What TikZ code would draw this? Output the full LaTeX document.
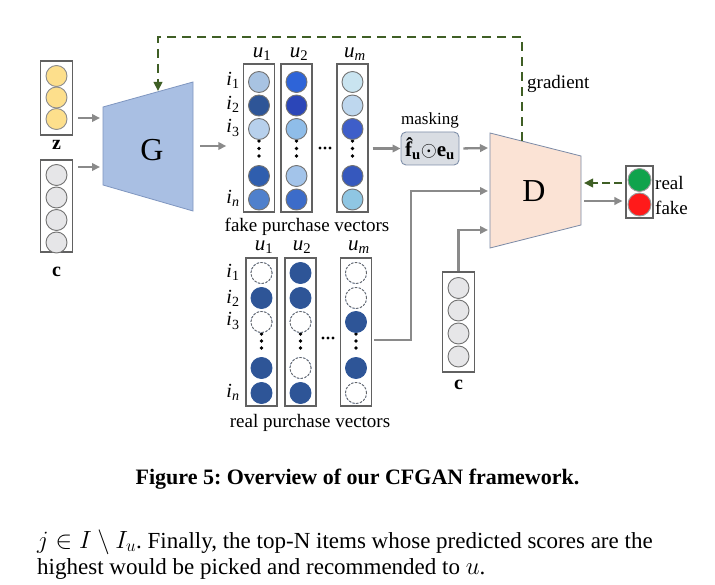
\documentclass[tikz,border=0pt]{standalone}
\usepackage{fontspec}
\setmainfont{Liberation Serif}
\usetikzlibrary{arrows.meta,calc}
\definecolor{gradgreen}{HTML}{3F5F25}
\definecolor{arrgray}{HTML}{8A8A8A}
\definecolor{gfill}{HTML}{A9BFE3}
\definecolor{gdraw}{HTML}{7F96C0}
\definecolor{dfill}{HTML}{FBE3D5}
\definecolor{ddraw}{HTML}{7B8AA6}
\definecolor{yel}{HTML}{FDDF8C}
\definecolor{lgray}{HTML}{E6E6E8}
\definecolor{realblue}{HTML}{2E5597}
\definecolor{maskfill}{HTML}{D9DDE3}
\definecolor{maskdraw}{HTML}{8090AA}
\definecolor{okgreen}{HTML}{10A34C}
\definecolor{badred}{HTML}{FF1A1A}
\frenchspacing
\begin{document}
\begin{tikzpicture}[x=1pt,y=-1pt,
  vbox/.style={draw=black!62, line width=1.1pt, minimum width=31pt, minimum height=148pt, inner sep=0pt},
  sbox/.style={draw=black!62, line width=1.1pt, inner sep=0pt},
  cell/.style={circle, draw=black!55, line width=0.9pt, minimum size=21pt, inner sep=0pt},
  emptycell/.style={circle, draw=black!60, line width=0.8pt, dash pattern=on 2.2pt off 1.6pt, minimum size=21pt, inner sep=0pt},
  vdot/.style={circle, fill=black, minimum size=3.8pt, inner sep=0pt},
  hdot/.style={circle, fill=black, minimum size=3.4pt, inner sep=0pt},
  garrow/.style={draw=arrgray, line width=2.3pt, -{Triangle[length=8pt,width=7.5pt]}},
  gradarrow/.style={draw=gradgreen, line width=2.7pt, dash pattern=on 9pt off 6pt, -{Triangle[length=9pt,width=8.5pt]}},
  lbl/.style={font=\fontsize{19}{22}\selectfont, inner sep=0pt},
  ilbl/.style={font=\fontsize{20}{22}\selectfont, inner sep=0pt},
  ulbl/.style={font=\fontsize{21}{22}\selectfont, inner sep=0pt},
  big/.style={font=\fontsize{32}{36}\selectfont, inner sep=0pt}
]
\useasboundingbox (0,0) rectangle (715,585);
\fill[white] (0,0) rectangle (715,585);

% ---------- z and c inputs ----------
\node[sbox, minimum width=31.5pt, minimum height=74pt] (zbox) at (56.5,98) {};
\foreach \k/\y in {1/76,2/97.5,3/119}
  \node[cell, fill=yel, draw=black!45] (z\k) at (56.5,\y) {};
\node[lbl, font=\fontsize{20}{22}\selectfont\bfseries] (zlab) at (56.5,145) {z};

\node[sbox, minimum width=31.5pt, minimum height=92pt] (cbox) at (56.5,206) {};
\foreach \k/\y in {1/175,2/197.5,3/220,4/242.5}
  \node[cell, fill=lgray] (c\k) at (56.5,\y) {};
\node[lbl, font=\fontsize{20}{22}\selectfont\bfseries] (clab) at (56.5,272) {c};

% ---------- Generator ----------
\draw[draw=gdraw, fill=gfill, line width=0.8pt] (103,107) -- (193,82) -- (193,211) -- (103,185) -- cycle;
\node[big] (G) at (152,150) {G};
\coordinate (Gin1) at (100,118);
\coordinate (Gin2) at (100,167);
\coordinate (Gout) at (200,146);
\coordinate (Gtop) at (158,91);
\draw[garrow, shorten <=5pt] (zbox.east |- Gin1) -- (Gin1);
\draw[garrow, shorten <=5pt] (cbox.east |- Gin2) -- (Gin2);

% ---------- fake purchase vectors ----------
\node[vbox] (fb1) at (259,138) {};
\node[vbox] (fb2) at (296.5,138) {};
\node[vbox] (fb3) at (352.5,138) {};
\foreach \c/\x in {1/259,2/296.5,3/352.5}{
  \foreach \r/\y in {1/82,2/105.5,3/129,4/176,5/199.5}{
    \coordinate (fp-\c-\r) at (\x,\y);
  }
  \node[vdot] at (\x,141) {};
  \node[vdot] at (\x,148.5) {};
  \node[vdot] at (\x,156) {};
}
\foreach \c/\r/\col in {1/1/A8C3E2,1/2/2E5597,1/3/B7D0EC,1/4/2F5EAE,1/5/4F80CC,
                         2/1/2E64D8,2/2/2B46B8,2/3/8FBDE9,2/4/A3C4EA,2/5/3C6CC9,
                         3/1/C9E4F0,3/2/BED7EE,3/3/3E5EC9,3/4/3658BD,3/5/8FC6E3}{
  \definecolor{tmpc}{HTML}{\col}
  \node[cell, fill=tmpc] (f-\c-\r) at (fp-\c-\r) {};
}
\node[ulbl] (fu1) at (262,54) {\textit{u}\textsubscript{1}};
\node[ulbl] (fu2) at (299,54) {\textit{u}\textsubscript{2}};
\node[ulbl] (fum) at (355,54) {\textit{u}\textsubscript{\textit{m}}};
\node[ilbl] (fi1) at (233,80) {\textit{i}\textsubscript{1}};
\node[ilbl] (fi2) at (233,104) {\textit{i}\textsubscript{2}};
\node[ilbl] (fi3) at (233,128) {\textit{i}\textsubscript{3}};
\node[ilbl] (fin) at (233,198) {\textit{i}\textsubscript{\textit{n}}};
\node[hdot] (fd1) at (320,148) {};
\node[hdot] (fd2) at (325,148) {};
\node[hdot] (fd3) at (330,148) {};
\node[lbl] (flab) at (307,227) {fake purchase vectors};
\draw[garrow] (Gout) -- (Gout -| fi3.west);

% ---------- real purchase vectors ----------
\node[vbox] (rb1) at (261.5,332) {};
\node[vbox] (rb2) at (300.5,332) {};
\node[vbox] (rb3) at (356,332) {};
\foreach \c/\x in {1/261.5,2/300.5,3/356}{
  \foreach \r/\y in {1/273,2/298,3/322,4/368,5/393}{
    \coordinate (rp-\c-\r) at (\x,\y);
  }
  \node[vdot] at (\x,334) {};
  \node[vdot] at (\x,341) {};
  \node[vdot] at (\x,348) {};
}
\foreach \c/\r/\s in {1/1/emptycell,1/2/cell,1/3/emptycell,1/4/cell,1/5/cell,
                       2/1/cell,2/2/cell,2/3/emptycell,2/4/emptycell,2/5/cell,
                       3/1/emptycell,3/2/emptycell,3/3/cell,3/4/cell,3/5/emptycell}{
  \node[\s, fill=realblue, draw=realblue] (r-\c-\r) at (rp-\c-\r) {};
}
\foreach \c/\r in {1/1,1/3,2/3,2/4,3/1,3/2,3/5}{
  \node[emptycell, fill=white] at (rp-\c-\r) {};
}
\node[ulbl] (ru1) at (264,247) {\textit{u}\textsubscript{1}};
\node[ulbl] (ru2) at (302,247) {\textit{u}\textsubscript{2}};
\node[ulbl] (rum) at (359,247) {\textit{u}\textsubscript{\textit{m}}};
\node[ilbl] (ri1) at (233,272) {\textit{i}\textsubscript{1}};
\node[ilbl] (ri2) at (233,298) {\textit{i}\textsubscript{2}};
\node[ilbl] (ri3) at (233,321) {\textit{i}\textsubscript{3}};
\node[ilbl] (rin) at (233,392) {\textit{i}\textsubscript{\textit{n}}};
\node[hdot] (rd1) at (323,338) {};
\node[hdot] (rd2) at (328,338) {};
\node[hdot] (rd3) at (333,338) {};
\node[lbl] (rlab) at (310,423) {real purchase vectors};

% ---------- masking ----------
\node[draw=maskdraw, fill=maskfill, rounded corners=5pt, line width=0.9pt,
      minimum width=58pt, minimum height=33pt, inner sep=0pt,
      font=\fontsize{21}{22}\selectfont\bfseries] (mask) at (430,148.5)
      {\^{f}\textsubscript{u}$\odot$e\textsubscript{u}};
\node[lbl, font=\fontsize{17}{20}\selectfont] (masklab) at (430,120) {masking};
\draw[garrow, shorten <=4pt] (fb3.east |- mask.west) -- (mask.west);

% ---------- Discriminator ----------
\draw[draw=ddraw, fill=dfill, line width=0.8pt] (490,133) -- (581,156) -- (581,225) -- (490,248) -- cycle;
\node[big] (D) at (534,191) {D};
\coordinate (Din1) at (488,148);
\coordinate (Din2) at (488,191);
\coordinate (Din3) at (488,230);
\coordinate (Dout) at (584,201);
\coordinate (Dback) at (584,183);
\coordinate (Dtop) at (522,141);
\coordinate (turn) at (411,340);
\draw[garrow, shorten <=4pt] (mask.east) -- (Din1);
\draw[garrow, shorten <=2pt] (rb3.east |- turn) -- (turn) |- (Din2);

% second c
\node[sbox, minimum width=31.5pt, minimum height=100pt] (c2box) at (458.5,322) {};
\foreach \k/\y in {1/288,2/310.5,3/333.5,4/356.5}
  \node[cell, fill=lgray] (cc\k) at (458.5,\y) {};
\node[lbl, font=\fontsize{20}{22}\selectfont\bfseries] (c2lab) at (458.5,385) {c};
\draw[garrow] (c2box.north) |- (Din3);

% ---------- output ----------
\node[sbox, minimum width=27pt, minimum height=52pt] (obox) at (639.5,192) {};
\node[cell, fill=okgreen, draw=black!40, minimum size=23pt] (og) at (639.5,180) {};
\node[cell, fill=badred, draw=black!40, minimum size=23pt] (orr) at (639.5,204.5) {};
\node[lbl, anchor=west] (reallab) at (655,183) {real};
\node[lbl, anchor=west] (fakelab) at (655,208) {fake};
\draw[garrow, shorten >=3pt] (Dout) -- (obox.west |- Dout);
\draw[gradarrow, dash pattern=on 8pt off 4pt, shorten <=3pt] (obox.west |- Dback) -- (Dback);

% ---------- gradient ----------
\draw[gradarrow] (Dtop) -- (522,37) -- (158,37) -- (Gtop);
\node[lbl, anchor=west] (gradlab) at (527,84) {gradient};

% ---------- caption and body ----------
\node[inner sep=0pt, anchor=base, font=\fontsize{22}{24}\selectfont\bfseries] (cap) at (357.5,484)
  {Figure 5: Overview of our CFGAN framework.};
\node[inner sep=0pt, anchor=base west, font=\fontsize{23}{26}\selectfont] (body1) at (37,548)
  {$j\in I\setminus I_u$. Finally, the top-N items whose predicted scores are the};
\node[inner sep=0pt, anchor=base west, font=\fontsize{23}{26}\selectfont] (body2) at (37,574)
  {highest would be picked and recommended to $u$.};
\end{tikzpicture}
\end{document}
